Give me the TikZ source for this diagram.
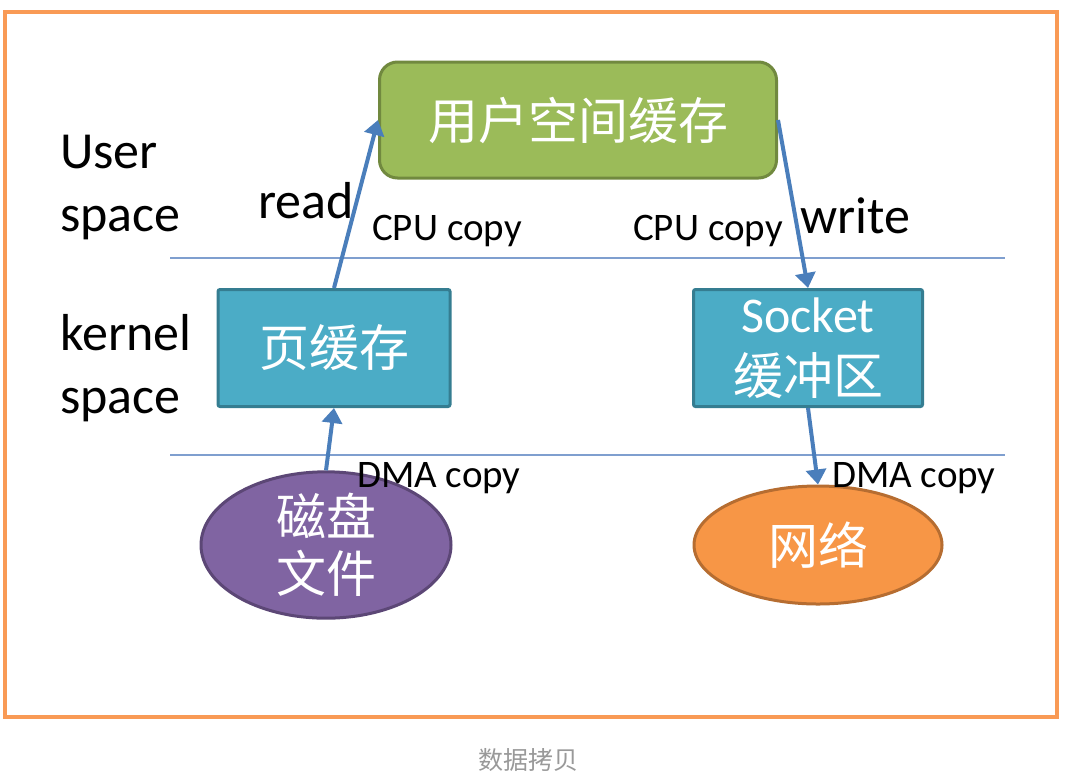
\documentclass[tikz,border=0pt]{standalone}
\usepackage{fontspec}
\setmainfont{Carlito}
\newfontfamily\cjk{Noto Sans CJK SC}
\usetikzlibrary{positioning, arrows.meta, shapes.geometric}
\definecolor{frameOrange}{HTML}{F99A55}
\definecolor{userGreen}{HTML}{9BBB59}
\definecolor{userGreenDk}{HTML}{71893F}
\definecolor{kernBlue}{HTML}{4BACC6}
\definecolor{kernBlueDk}{HTML}{357D91}
\definecolor{diskPurple}{HTML}{8064A2}
\definecolor{diskPurpleDk}{HTML}{5C4776}
\definecolor{netOrange}{HTML}{F79646}
\definecolor{netOrangeDk}{HTML}{B66D31}
\definecolor{flowBlue}{HTML}{4A7EBB}
\definecolor{sepBlue}{HTML}{7F9FCF}
\definecolor{captionGray}{HTML}{999999}

\begin{document}
\begin{tikzpicture}[x=1pt, y=-1pt,
        every node/.style={inner sep=0pt},
        lbltext/.style={font=\fontsize{52}{63}\selectfont, align=left, anchor=base west},
        copytext/.style={font=\fontsize{39}{44}\selectfont, anchor=base west},
        bufbox/.style={rectangle, line width=3pt, text=white, align=center,
                       font=\cjk\fontsize{50}{62}\selectfont},
        srcblob/.style={ellipse, line width=3pt, text=white, align=center,
                        font=\cjk\fontsize{50}{57}\selectfont},
        sepline/.style={sepBlue, line width=1.5pt},
        arr/.style={-{Triangle[length=15pt, width=20pt]}, flowBlue, line width=4pt},
      ]
        \useasboundingbox (0,0) rectangle (1078,780);

        % Outer frame
        \draw[frameOrange, line width=4pt] (5,12) rectangle (1057,717);

        % User space buffer
        \node[bufbox, fill=userGreen, draw=userGreenDk, rounded corners=18pt,
              minimum width=397pt, minimum height=116pt] (usrbuf) at (578,120) {用户空间缓存};

        % Kernel buffers
        \node[bufbox, fill=kernBlue, draw=kernBlueDk, rounded corners=2pt,
              minimum width=232pt, minimum height=117pt] (pgcache) at (334,348) {页缓存};
        \node[bufbox, fill=kernBlue, draw=kernBlueDk, rounded corners=2pt,
              minimum width=229pt, minimum height=117pt] (sockbuf) at (808,348) {{\rmfamily Socket}\\缓冲区};

        % Disk and network
        \node[srcblob, fill=diskPurple, draw=diskPurpleDk,
              minimum width=250pt, minimum height=120pt] (disk) at (326,545) {磁盘\\文件};
        \node[srcblob, fill=netOrange, draw=netOrangeDk,
              minimum width=248pt, minimum height=118pt] (net) at (818,545) {网络};

        % Layer separators
        \coordinate (sepAl) at (170,258);
        \coordinate (sepAr) at (1005,258);
        \coordinate (sepBl) at (170,455);
        \coordinate (sepBr) at (1005,455);
        \draw[sepline] (sepAl) -- (sepAr);
        \draw[sepline] (sepBl) -- (sepBr);

        % Layer labels (base = last line)
        \node[lbltext] (usrlbl) at (60,231) {User\\space};
        \node[lbltext] (kernlbl) at (60,413) {kernel\\space};

        % Copy labels
        \node[lbltext] (readlbl) at (258,218) {read};
        \node[lbltext] (writelbl) at (800,233) {write};
        \node[copytext] (cpuL) at (372,240) {CPU copy};
        \node[copytext] (cpuR) at (633,240) {CPU copy};
        \node[copytext] (dmaL) at (357,487) {DMA copy};
        \node[copytext] (dmaR) at (832,487) {DMA copy};

        \draw[arr] (disk.north) -- (pgcache.south);
        \draw[arr] (pgcache.north) -- (usrbuf.west);
        \draw[arr] (usrbuf.east) -- (sockbuf.north);
        \draw[arr] (sockbuf.south) -- (net.north);

        % Caption
        \node[font=\cjk\fontsize{25}{28}\selectfont, text=captionGray] (caption) at (528,760) {数据拷贝};
\end{tikzpicture}
\end{document}
